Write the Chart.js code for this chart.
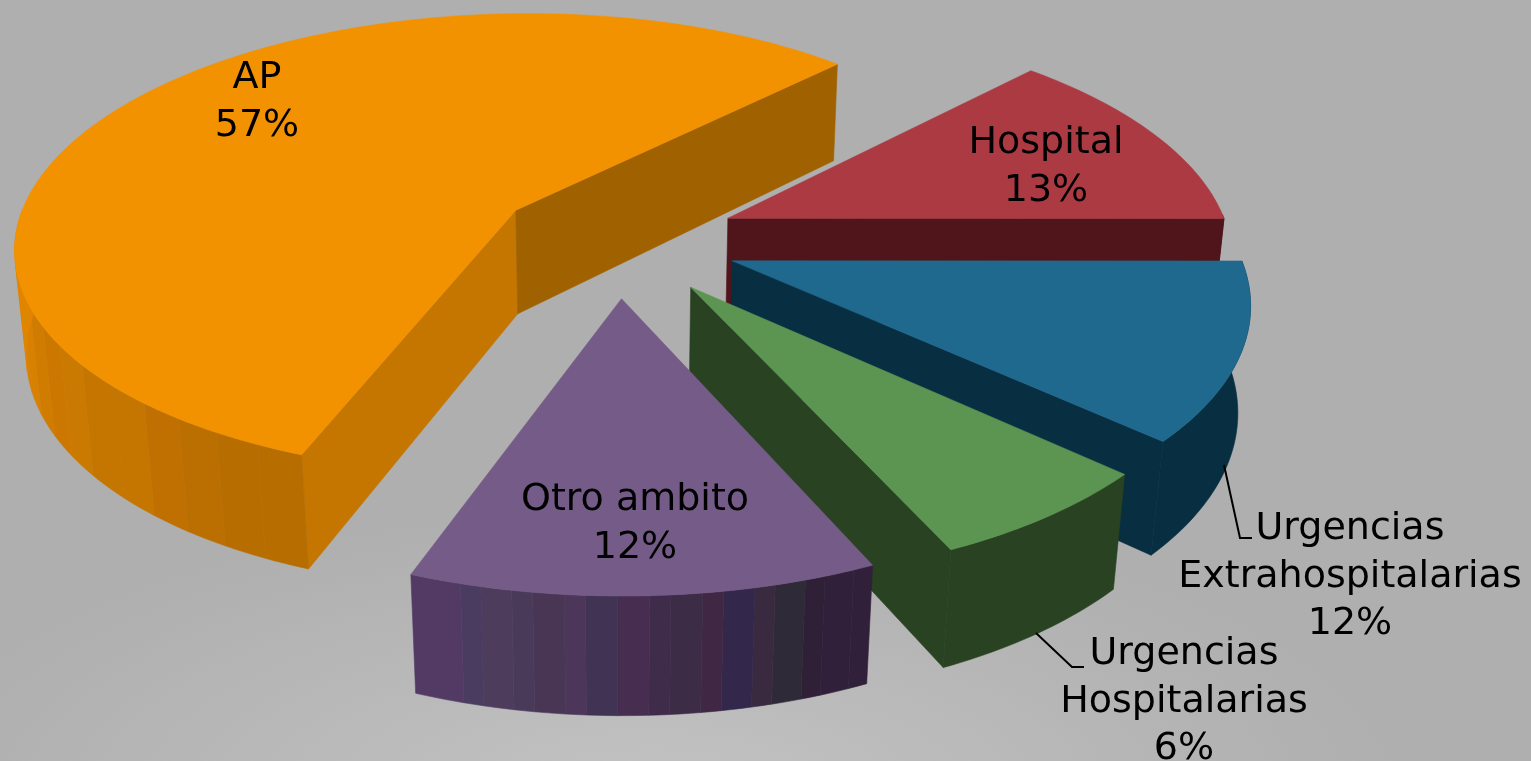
<!DOCTYPE html>
<html lang="es">

<head>
    <meta charset="UTF-8">
    <title>Ambito</title>
    <script src="https://cdn.jsdelivr.net/npm/chart.js"></script>
    <style>
        html, body { margin: 0; padding: 0; overflow: hidden; }
        canvas {
            display: block;
            background: radial-gradient(ellipse 750px 290px at 650px 800px, #c3c3c3 0%, #afafaf 100%);
        }
    </style>
</head>

<body>
    <canvas id="pie" width="1531" height="761"></canvas>
    <script>
        // Data
        const categories = ['AP', 'Hospital', 'Urgencias Extrahospitalarias', 'Urgencias Hospitalarias', 'Otro ambito'];
        const values = [56.6, 12.7, 11.8, 6.4, 12.4]; // slice sizes, labels round them
        const labelLines = [['AP'], ['Hospital'], ['Urgencias', 'Extrahospitalarias'], ['Urgencias', 'Hospitalarias'], ['Otro ambito']];

        // Colours
        const topColors = ['#f39200', '#ab3a43', '#1f698f', '#5c9552', '#755b87'];
        const startFaceColors = ['#c47600', '#50141b', '#082e42', '#284222', '#3a2c4a'];
        const endFaceColors = ['#a06200', '#50141b', '#082e42', '#284222', '#3a2c4a'];
        // wall facets, listed in clockwise order; the last one runs on to the end of the slice
        const wallColors = [
            ['#b86d00', '#bb6f00', '#c07000', '#c47600', '#c47600', '#ca7a00', '#cc7800', '#d07c00', '#d88000', '#db8000', '#e08500', '#e08a00'],
            ['#50141b'],
            ['#082e42'],
            ['#284222'],
            ['#302039', '#2f2038', '#2e2a38', '#3a2a40', '#33274c', '#402845', '#3c2c46', '#3e2c4a', '#472e50', '#403354', '#4c3659', '#493655', '#4a3a5a', '#4d3c5c', '#4a3b60', '#523a65', '#4e4065']
        ];
        const wallSpans = [62, 43, 43, 22, 43]; // degrees the facet list is spread over

        // Text spots
        const labelSpots = [
            { x: 257, y: 88 },
            { x: 1046, y: 153 },
            { x: 1350, y: 539 },
            { x: 1184, y: 664 },
            { x: 635, y: 510 }
        ];
        const leaders = [
            null,
            null,
            [[1224, 465], [1240, 538], [1252, 538]],
            [[1036, 633], [1072, 667], [1084, 667]],
            null
        ];

        // Perspective of the tilted pie
        const view = { depth: 3400, tilt: 0.465, thick: 107, sink: 67 };

        function project(arc, u, v, low) {
            const w = view.depth / (view.depth - v + (low ? view.sink : 0));
            return {
                x: arc.x + u * w,
                y: arc.y + (v * view.tilt + (low ? view.thick : 0)) * w
            };
        }

        function fillPoly(ctx, pts, color) {
            ctx.beginPath();
            pts.forEach((p, i) => i ? ctx.lineTo(p.x, p.y) : ctx.moveTo(p.x, p.y));
            ctx.closePath();
            ctx.fillStyle = color;
            ctx.strokeStyle = color;
            ctx.lineWidth = 0.6;
            ctx.fill();
            ctx.stroke();
        }

        const pie3d = {
            id: 'pie3d',
            // the flat arcs are replaced by the tilted ones
            beforeDatasetsDraw(chart) {
                const ctx = chart.ctx;
                const meta = chart.getDatasetMeta(0);

                meta.data.forEach((arc, i) => {
                    const { startAngle, endAngle, outerRadius } = arc;
                    const mid = (startAngle + endAngle) / 2;
                    const ou = Math.cos(mid) * arc.options.offset;
                    const ov = Math.sin(mid) * arc.options.offset;
                    const rimAt = (a, low) => project(arc, ou + Math.cos(a) * outerRadius, ov + Math.sin(a) * outerRadius, low);
                    const step = Math.PI / 180;
                    const n = Math.ceil((endAngle - startAngle) / step);
                    const angleAt = k => startAngle + (endAngle - startAngle) * k / n;
                    const apex = project(arc, ou, ov), apexLow = project(arc, ou, ov, true);

                    // cut faces, only those turned to the viewer
                    if (Math.sin(startAngle - Math.PI / 2) > 0) {
                        fillPoly(ctx, [apex, rimAt(startAngle), rimAt(startAngle, true), apexLow], startFaceColors[i]);
                    }
                    if (Math.sin(endAngle + Math.PI / 2) > 0) {
                        fillPoly(ctx, [apex, rimAt(endAngle), rimAt(endAngle, true), apexLow], endFaceColors[i]);
                    }

                    // outer wall, front part only, one polygon per facet colour
                    const colors = wallColors[i];
                    const facetSize = wallSpans[i] * step / colors.length;
                    const facetOf = a => Math.min(colors.length - 1, Math.floor((a - startAngle) / facetSize));
                    let run = [];
                    for (let k = 0; k <= n; k++) {
                        const a = angleAt(k);
                        if (Math.sin(a) < -0.02) continue;
                        run.push(a);
                        const next = k < n ? angleAt(k + 1) : null;
                        if (next === null || facetOf(next) !== facetOf(a) || Math.sin(next) < -0.02) {
                            if (run.length > 1) {
                                fillPoly(ctx, run.map(x => rimAt(x)).concat(run.map(x => rimAt(x, true)).reverse()), colors[facetOf(run[0])]);
                            }
                            run = [a];
                        }
                    }

                    // top
                    const top = [apex];
                    for (let k = 0; k <= n; k++) top.push(rimAt(angleAt(k)));
                    fillPoly(ctx, top, arc.options.backgroundColor);
                });

                return false;
            },
            afterDraw(chart) {
                const ctx = chart.ctx;
                ctx.save();
                ctx.fillStyle = '#000';
                ctx.strokeStyle = '#000';
                ctx.lineWidth = 2;
                ctx.font = '38px "DejaVu Sans"';
                ctx.textAlign = 'center';
                ctx.textBaseline = 'alphabetic';
                categories.forEach((name, i) => {
                    const lines = labelLines[i].concat(Math.round(values[i]) + '%');
                    lines.forEach((line, k) => ctx.fillText(line, labelSpots[i].x, labelSpots[i].y + k * 47.5));
                    if (leaders[i]) {
                        ctx.beginPath();
                        leaders[i].forEach((p, k) => k ? ctx.lineTo(p[0], p[1]) : ctx.moveTo(p[0], p[1]));
                        ctx.stroke();
                    }
                });
                ctx.restore();
            }
        };

        new Chart(document.getElementById('pie'), {
            type: 'pie',
            data: {
                labels: categories,
                datasets: [{
                    data: values,
                    backgroundColor: topColors,
                    borderWidth: 0,
                    offset: 122
                }]
            },
            options: {
                responsive: false,
                animation: false,
                rotation: 200.3,
                radius: 503,
                layout: { padding: { right: 297, bottom: 281 } },
                plugins: { legend: { display: false }, tooltip: { enabled: false } }
            },
            plugins: [pie3d]
        });
    </script>
</body>

</html>
